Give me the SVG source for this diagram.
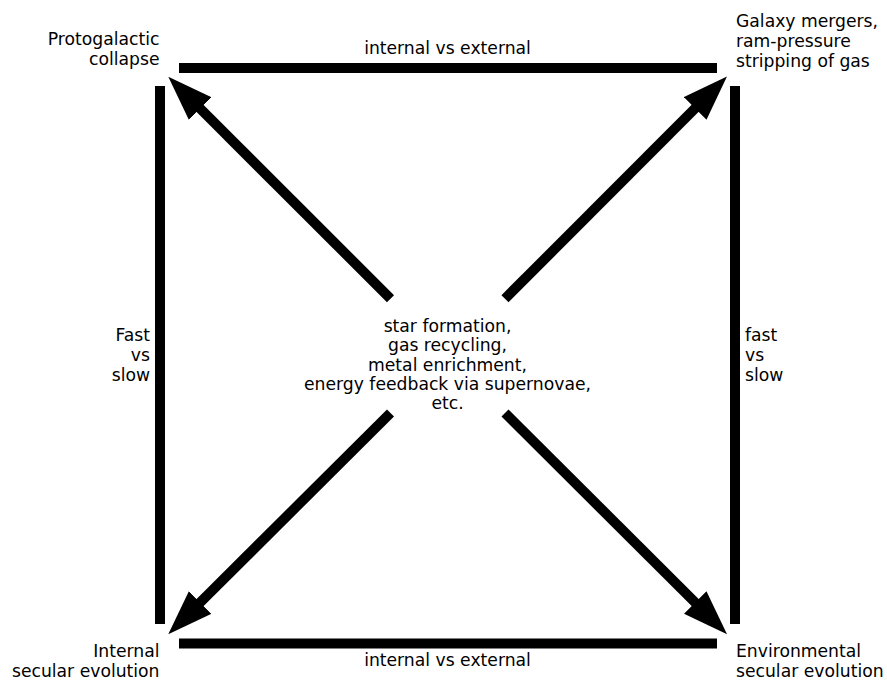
<svg xmlns="http://www.w3.org/2000/svg" width="887" height="682" viewBox="0 0 887 682">
<style>
text{font-family:"DejaVu Sans",sans-serif;font-size:17.2px;fill:#000}
.r{text-anchor:end}
.m{text-anchor:middle}
.bar{fill:#000}
.arr{stroke:#000;stroke-width:10;fill:none;marker-end:url(#head)}
</style>
<defs>
<marker id="head" markerUnits="userSpaceOnUse" viewBox="0 0 45 32" markerWidth="45" markerHeight="32" refX="5" refY="16" orient="auto">
<path d="M0,0 L45,16 L0,32 Z" fill="#000"/>
</marker>
</defs>
<rect width="887" height="682" fill="#fff"/>
<g id="connectors">
<rect class="bar" x="179" y="63" width="538" height="10"/>
<rect class="bar" x="179" y="638.5" width="538" height="10"/>
<rect class="bar" x="155" y="86" width="10" height="538"/>
<rect class="bar" x="730" y="86" width="10" height="538"/>
<line class="arr" x1="390.5" y1="298.7" x2="196.6" y2="105"/>
<line class="arr" x1="505" y1="298.7" x2="698.7" y2="104.8"/>
<line class="arr" x1="390.5" y1="413" x2="196.6" y2="606"/>
<line class="arr" x1="505" y1="413" x2="698.7" y2="606"/>
<text class="m" x="447.5" y="54">internal vs external</text>
<text class="m" x="447.5" y="666">internal vs external</text>
<text class="r" x="150" y="341">Fast</text>
<text class="r" x="150" y="361">vs</text>
<text class="r" x="150" y="381">slow</text>
<text x="745" y="341">fast</text>
<text x="745" y="361">vs</text>
<text x="745" y="381">slow</text>
</g>
<g id="protogalactic">
<text class="r" x="159.5" y="44.5">Protogalactic</text>
<text class="r" x="159.5" y="64.5">collapse</text>
</g>
<g id="mergers">
<text x="736" y="26.5">Galaxy mergers,</text>
<text x="736" y="46.5">ram-pressure</text>
<text x="736" y="66.5">stripping of gas</text>
</g>
<g id="internal">
<text class="r" x="159.5" y="656.5">Internal</text>
<text class="r" x="159.5" y="676.5">secular evolution</text>
</g>
<g id="environmental">
<text x="736" y="657">Environmental</text>
<text x="736" y="677">secular evolution</text>
</g>
<g id="center">
<text class="m" x="447.5" y="331.5">star formation,</text>
<text class="m" x="447.5" y="351">gas recycling,</text>
<text class="m" x="447.5" y="370.5">metal enrichment,</text>
<text class="m" x="447.5" y="390">energy feedback via supernovae,</text>
<text class="m" x="447.5" y="409">etc.</text>
</g>
</svg>
